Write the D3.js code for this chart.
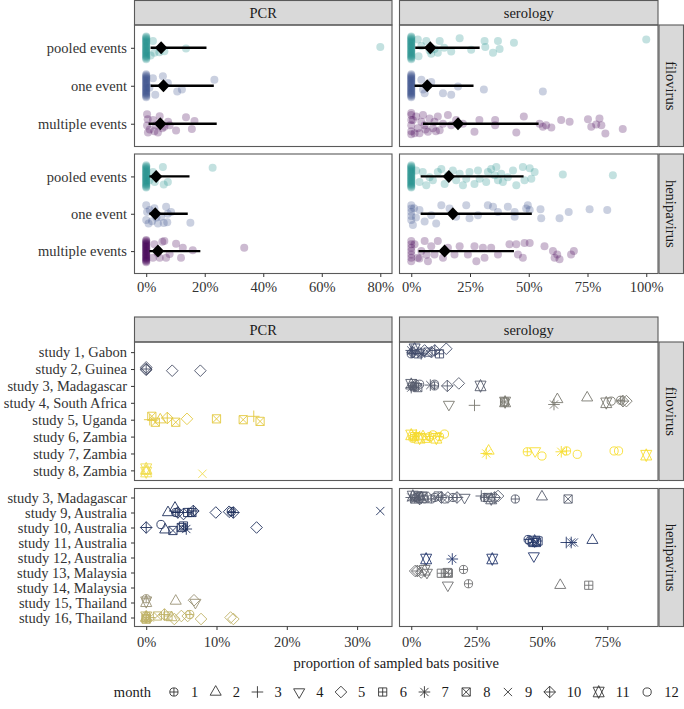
<!DOCTYPE html>
<html lang="en">
<head>
<meta charset="utf-8">
<title>bats positive</title>
<style>
  body { margin: 0; background: #fff; }
  svg text { font-family: "Liberation Serif", "DejaVu Serif", serif; }
</style>
</head>
<body>
<svg id="chart" width="684" height="709"></svg>
<script src="https://cdn.jsdelivr.net/npm/d3@7"></script>
<script>
// ---------------- data ----------------
var methods = ['PCR', 'serology'];
var viruses = ['filovirus', 'henipavirus'];
var eventTypes = ['pooled events', 'one event', 'multiple events'];

// top chart: [percent positive, vertical jitter (fraction of row)]
var filoPcrPooled = [[0,-0.3],[0,-0.275],[0,-0.25],[0,-0.225],[0,-0.2],[0,-0.175],[0,-0.15],[0,-0.125],[0,-0.1],[0,-0.075],[0,-0.05],[0,-0.025],[0,0],
  [0,0.025],[0,0.05],[0,0.075],[0,0.1],[0,0.125],[0,0.15],[0,0.175],[0,0.2],[0,0.225],[0,0.25],[0,0.275],[0,0.3],
  [1.5,0.2],[2.3,-0.18],[2.8,0.13],[4.5,0.12],[6.2,0.09],[13.6,0.02],[80,-0.02]];
var filoPcrOne = [[0,-0.3],[0,-0.275],[0,-0.25],[0,-0.225],[0,-0.2],[0,-0.175],[0,-0.15],[0,-0.125],[0,-0.1],[0,-0.075],[0,-0.05],[0,-0.025],[0,0],
  [0,0.025],[0,0.05],[0,0.075],[0,0.1],[0,0.125],[0,0.15],[0,0.175],[0,0.2],[0,0.225],[0,0.25],[0,0.275],[0,0.3],
  [1.1,0.05],[2.3,-0.2],[3.1,0.24],[5.7,-0.25],[7.4,-0.07],[10.6,0.15],[12.2,0.1],[23.3,-0.16]];
var filoPcrMulti = [[0.3,-0.25],[0.5,-0.12],[0.3,0.05],[0.6,0.23],[1.2,0.15],[2.3,-0.1],[2.8,0.2],[3.4,0.04],[4,0.23],[4.6,-0.2],
  [5.5,0.12],[6.2,0.08],[7.5,-0.05],[8,0.04],[10.2,0.18],[13.6,-0.17],[15.6,0.14],[16.5,-0.07]];
var heniPcrPooled = [[0,-0.3],[0,-0.275],[0,-0.25],[0,-0.225],[0,-0.2],[0,-0.175],[0,-0.15],[0,-0.125],[0,-0.1],[0,-0.075],[0,-0.05],[0,-0.025],[0,0],
  [0,0.025],[0,0.05],[0,0.075],[0,0.1],[0,0.125],[0,0.15],[0,0.175],[0,0.2],[0,0.225],[0,0.25],[0,0.275],[0,0.3],
  [1.1,0.1],[2.3,-0.12],[2.9,0.15],[5.7,-0.25],[6,0.22],[7.4,0.15],[22.7,-0.23]];
var heniPcrOne = [[0,-0.23],[0.3,-0.05],[0,0.17],[0.8,0.26],[1.2,-0.1],[2,0.2],[2.8,-0.15],[3.5,0.1],[4,0.26],[5.1,0.08],
  [6,0.25],[6.8,-0.19],[7.2,0.23],[7.4,0],[8.5,-0.05],[15.1,0.24]];
var heniPcrMulti = [[0,-0.3],[0,-0.275],[0,-0.25],[0,-0.225],[0,-0.2],[0,-0.175],[0,-0.15],[0,-0.125],[0,-0.1],[0,-0.075],[0,-0.05],[0,-0.025],[0,0],
  [0,0.025],[0,0.05],[0,0.075],[0,0.1],[0,0.125],[0,0.15],[0,0.175],[0,0.2],[0,0.225],[0,0.25],[0,0.275],[0,0.3],
  [2.3,0.18],[2.8,-0.18],[3.9,0.05],[4.6,0.18],[5.5,-0.25],[6.2,-0.27],[6.8,0.18],[8,0.08],[10.2,-0.2],[11.9,0.18],[12.5,-0.09],[15.9,-0.02],[33.5,-0.09]];

var filoSeroPooled = [[0,-0.3],[0,-0.275],[0,-0.25],[0,-0.225],[0,-0.2],[0,-0.175],[0,-0.15],[0,-0.125],[0,-0.1],[0,-0.075],[0,-0.05],[0,-0.025],[0,0],
  [0,0.025],[0,0.05],[0,0.075],[0,0.1],[0,0.125],[0,0.15],[0,0.175],[0,0.2],[0,0.225],[0,0.25],[0,0.275],[0,0.3],
  [2.8,-0.22],[3.1,0.22],[4.3,-0.05],[6.4,-0.18],[7.8,0.07],[8.5,0.16],[9.9,0.03],[11.3,0.13],[12.1,-0.18],[14,0],[17,0.1],
  [20.6,-0.25],[25.5,0.05],[31.2,-0.18],[31.5,-0.02],[34.8,0.13],[36.9,-0.18],[37.6,0.03],[43.7,-0.13],[100,-0.22]];
var filoSeroOne = [[0,-0.3],[0,-0.275],[0,-0.25],[0,-0.225],[0,-0.2],[0,-0.175],[0,-0.15],[0,-0.125],[0,-0.1],[0,-0.075],[0,-0.05],[0,-0.025],[0,0],
  [0,0.025],[0,0.05],[0,0.075],[0,0.1],[0,0.125],[0,0.15],[0,0.175],[0,0.2],[0,0.225],[0,0.25],[0,0.275],[0,0.3],
  [4.3,-0.16],[5,0.1],[5.7,0.2],[8.5,-0.1],[13.5,0.2],[17,0.24],[19.9,0.02],[30.9,0.1],[56,0.15]];
var filoSeroMulti = [[0,-0.23],[0,0.04],[0,0.2],[0,-0.1],[0,0.28],[0,-0.28],[0.7,-0.1],[1.4,0.25],[2.1,-0.19],[2.8,0.12],[3.5,0.25],[4.3,-0.05],[5,-0.23],
  [5.7,0.04],[6,0.15],[7.1,0.21],[7.8,-0.14],[9.2,0.12],[9.9,-0.05],[10.5,0.2],[11.3,-0.19],[12.1,0.17],[13.5,0],[15.6,-0.23],
  [17,0.04],[19.1,-0.1],[22,0],[26.9,0.21],[29,-0.1],[35.7,-0.1],[35.7,0.04],[44.7,0.23],[47.9,-0.19],[54.6,0],[56,0.08],
  [57.4,0.04],[59.6,0.1],[63.8,-0.1],[67.4,-0.05],[75.2,-0.12],[76.6,0.08],[78.7,0.02],[80.1,-0.14],[80.9,0.04],[82.6,0.26],[90,0.14]];
var heniSeroPooled = [[0,-0.3],[0,-0.275],[0,-0.25],[0,-0.225],[0,-0.2],[0,-0.175],[0,-0.15],[0,-0.125],[0,-0.1],[0,-0.075],[0,-0.05],[0,-0.025],[0,0],
  [0,0.025],[0,0.05],[0,0.075],[0,0.1],[0,0.125],[0,0.15],[0,0.175],[0,0.2],[0,0.225],[0,0.25],[0,0.275],[0,0.3],
  [2.1,-0.16],[3.5,0.15],[4.9,-0.12],[6.4,0.24],[7.8,0.02],[9.2,0.1],[11.3,-0.12],[12.8,-0.2],[14.2,0.2],[15.6,-0.03],[17.7,-0.16],
  [19.1,0.1],[20.6,-0.07],[22,0.24],[23.4,0.06],[24.8,-0.12],[26.9,0.2],[28.4,-0.16],[29.1,0.06],[31.9,0.15],[32.6,-0.12],[34,-0.2],
  [35.5,-0.03],[36.2,-0.25],[36.9,0.1],[38.3,-0.07],[39,0.15],[41.1,0.02],[43.3,-0.16],[44.7,0.24],[47.5,-0.25],[48.2,0.1],
  [50.4,-0.22],[51.1,0.06],[52.5,-0.12],[64.5,-0.05],[85.8,-0.03]];
var heniSeroOne = [[0,-0.23],[0,-0.14],[0,-0.05],[0,0.06],[0,0.17],[0.7,0.3],[1.2,-0.15],[2,0.1],[3.5,-0.1],[5.7,0.21],[8.5,0.04],[10.6,0.26],[12.8,-0.23],
  [16.3,-0.14],[19.1,0.08],[23.4,-0.23],[24.8,0.12],[28.4,0.04],[32.6,-0.23],[34.8,-0.19],[36.9,-0.05],[41.1,-0.19],[44,0.08],
  [44,-0.05],[48.9,-0.14],[49.6,-0.23],[50.4,-0.1],[55,-0.12],[55.3,0.12],[63.1,0.12],[67,-0.05],[75.9,-0.12],[83.4,-0.1]];
var heniSeroMulti = [[0,-0.27],[0,-0.18],[0,-0.09],[0,0],[0,0.09],[0,0.18],[0,0.27],[1.4,-0.18],[2.8,0.18],[3.5,0.2],[4.3,0],[5.7,-0.27],[6.5,0.1],[7.1,0.27],
  [8.5,-0.13],[9.9,0.09],[11.3,-0.27],[13.5,0.18],[15.6,-0.09],[18.4,0.09],[20.6,-0.13],[24.1,0.09],[26.9,-0.13],[27.7,0.27],
  [30.5,-0.09],[31.2,0.18],[34,-0.09],[36.9,0.09],[41.8,-0.18],[44.7,-0.18],[45.4,0.09],[47.5,0.18],[48.2,-0.22],[50.4,-0.22],
  [56.7,-0.13],[60.3,0],[61,0.18],[62.1,0.09],[63.1,0.22],[68,0.09],[69.2,0]];

// summaries per event type: [low, mean, high]
var filoPcrSummary = [[1.5,5.1,20.6],[1.5,5.9,23.1],[0.8,4.8,24.1]];
var heniPcrSummary = [[1.1,3.4,14.8],[1.1,3.1,14.2],[1.1,4.0,18.5]];
var filoSeroSummary = [[1.7,8.1,29.1],[1.4,6.8,26.5],[5.0,19.9,54.2]];
var heniSeroSummary = [[4.0,16.0,47.8],[4.0,17.7,51.3],[3.1,14.2,43.7]];

// bottom chart: studies and [percent positive, month, jitter]
var filoStudies = ['study 1, Gabon','study 2, Guinea','study 3, Madagascar','study 4, South Africa',
  'study 5, Uganda','study 6, Zambia','study 7, Zambia','study 8, Zambia'];
var heniStudies = ['study 3, Madagascar','study 9, Australia','study 10, Australia','study 11, Australia',
  'study 12, Australia','study 13, Malaysia','study 14, Malaysia','study 15, Thailand','study 16, Thailand'];
var months = [1,2,3,4,5,6,7,8,9,10,11,12];

var study2Pcr = [[0,5,-0.1],[0,5,0.05],[0,10,0],[3.7,5,0.1],[7.7,5,0.1]];
var study5Pcr = [[0.5,3,0],[0.8,8,-0.2],[1.3,8,0.15],[2,2,0],[3,10,-0.1],[4.2,8,0.15],[5.8,5,-0.05],[10,8,-0.05],
  [13.8,8,0],[15.3,3,-0.2],[16.2,8,0.1]];
var study8Pcr = [[0,11,-0.1],[0,2,0.05],[0,11,0.1],[8,9,0.2]];
var study9Pcr = [[3.1,2,0],[4.1,2,-0.3],[4.2,1,0],[4.5,10,0],[5.3,5,0.1],[5.9,6,0],[6.5,8,0],[6.7,10,-0.1],[9.9,5,0],
  [11.8,5,-0.05],[12.1,1,-0.05],[12.4,10,0],[33.3,9,-0.1]];
var study10Pcr = [[0,10,0],[2.1,12,-0.2],[2.7,2,0.15],[3.8,8,0.2],[5,8,0],[5.3,6,-0.1],[5.7,7,0.1],[15.7,5,0]];
var study15Pcr = [[0,1,-0.25],[0,11,-0.05],[4.2,2,-0.1],[6.8,5,-0.15],[7,4,0]];
var study16Pcr = [[0,1,-0.1],[0,2,0],[0,6,0.1],[0,12,0.05],[0,11,-0.05],[0,8,0.1],[0.5,7,0],[1.6,8,-0.1],[2.6,10,-0.2],
  [3.1,6,-0.1],[3.6,2,0],[4,5,0.1],[5,5,-0.1],[5.9,5,-0.1],[6.2,1,-0.2],[7.8,5,0.1],[12,5,0],[12.4,5,0.1]];

var study1Sero = [[0,7,-0.1],[0,1,0.1],[0.5,10,0],[1.3,11,-0.2],[2.6,6,0.1],[3.2,12,0],[3.8,7,0.1],[5.1,5,-0.1],[6.4,8,0],
  [7.7,5,0],[9,10,-0.1],[10.8,6,0.1],[13.4,5,-0.2]];
var study3Sero = [[0,11,-0.1],[0,7,0.1],[0.5,1,0],[1.2,6,0.05],[1.8,10,-0.05],[2.5,8,0.1],[3.2,12,-0.1],[7.3,7,-0.05],
  [8.9,12,-0.1],[8.9,1,0],[13.8,10,0],[18.2,5,-0.15],[26.5,11,0]];
var study4Sero = [[14.4,4,0.1],[24.2,3,0.15],[35.7,8,-0.05],[35.7,1,-0.05],[35.9,11,-0.05],[54.6,7,0.1],[55.9,2,-0.2],
  [67.3,2,-0.3],[74.6,11,0],[76.5,12,-0.1],[80.1,1,-0.15],[81,10,-0.1],[82.3,5,-0.1]];
var study6Sero = [[0,11,-0.1],[0.6,1,0.1],[1.3,6,0],[1.9,7,-0.1],[3.2,11,0.1],[4.5,2,0],[5.7,8,0.1],[7,1,0],[8.3,12,-0.1],
  [9.6,11,0.1],[10.8,1,0],[12.7,12,-0.15]];
var study7Sero = [[28.7,7,0],[29.6,2,-0.15],[44.4,1,-0.1],[47.4,4,-0.15],[50,12,0.15],[57.4,7,-0.1],[59.4,1,-0.15],
  [63.5,12,0.05],[77.6,12,-0.15],[79.3,12,-0.15],[89.9,11,0.1]];
var study3SeroH = [[0,7,0],[0.6,11,-0.1],[1.3,6,0.1],[1.9,1,0],[2.6,8,-0.1],[3.2,10,0.1],[3.8,11,0],[4.5,6,-0.1],[5.1,12,0.1],
  [6.4,5,0],[7.7,1,0.1],[9,12,0],[10.3,6,-0.1],[11.5,10,0],[12.8,12,0.1],[14,5,0],[16,1,0],[17.5,10,0],[20.4,4,0],
  [26.8,3,-0.1],[28,1,0],[29.3,8,0],[30.6,11,0.1],[31.9,10,0],[33.2,5,-0.1],[39.8,1,0.1],[50,2,-0.05],[60,8,0.1]];
var study11SeroH = [[44.7,1,-0.2],[45.3,12,-0.1],[46.5,6,0],[47.2,11,-0.1],[47.9,8,0],[48.5,6,-0.1],[59.3,3,0],[61.2,7,0],
  [62.2,9,0],[69.3,2,-0.15]];
var study12SeroH = [[5.7,11,0.1],[15.7,7,0.1],[31,11,0.1],[46.9,4,-0.1]];
var study13SeroH = [[1.5,5,-0.1],[2.3,10,-0.1],[3.8,5,0],[5.1,11,-0.15],[6,4,0],[11.5,6,0.05],[13.8,8,0],[14.2,6,0.05],[20,1,-0.2]];
var study14SeroH = [[14,4,-0.15],[21.9,1,-0.25],[57,2,-0.15],[67.9,6,-0.15]];

var topPcrTicks = [0, 20, 40, 60, 80];
var topSeroTicks = [0, 25, 50, 75, 100];
var botPcrTicks = [0, 10, 20, 30];
var botSeroTicks = [0, 25, 50, 75];

// ---------------- style / layout ----------------
var eventColor = d3.scaleOrdinal().domain(eventTypes).range(['#21908C', '#3B528B', '#440154']);
var studyColor = {
  'study 1, Gabon': '#434d6b', 'study 2, Guinea': '#4a5068', 'study 3, Madagascar': '#575c6d',
  'study 4, South Africa': '#7b7970', 'study 5, Uganda': '#e3c83f', 'study 6, Zambia': '#f5da2e',
  'study 7, Zambia': '#f7de30', 'study 8, Zambia': '#f0dc4f', 'study 9, Australia': '#1d2e5a',
  'study 10, Australia': '#1f305c', 'study 11, Australia': '#27396a', 'study 12, Australia': '#22366c',
  'study 13, Malaysia': '#6d6e70', 'study 14, Malaysia': '#717172', 'study 15, Thailand': '#9a9275',
  'study 16, Thailand': '#c0b268'
};
var fs = 14.5;
var ink = '#333';
var border = '#5a5a5a';
var colX = { PCR: [134.5, 392], serology: [399.5, 658] };
var stripX = [659, 683.5];
var topRows = { filovirus: [25, 146.5], henipavirus: [154, 273.5] };
var botRows = { filovirus: [342, 480.5], henipavirus: [488.5, 626.5] };

var svg = d3.select('#chart');

function expanded(max) { return [-0.05 * max, 1.05 * max]; }

function shapePath(m, R) {
  var t0 = 1.5551, t1 = t0 * Math.sqrt(3) / 2, t2 = t0 / 2;
  function circ(r) { return 'M' + (-r) + ',0A' + r + ',' + r + ' 0 1,0 ' + r + ',0A' + r + ',' + r + ' 0 1,0 ' + (-r) + ',0Z'; }
  function plus(a) { return 'M' + (-a) + ',0H' + a + 'M0,' + (-a) + 'V' + a; }
  function cross(a) { return 'M' + (-a) + ',' + (-a) + 'L' + a + ',' + a + 'M' + (-a) + ',' + a + 'L' + a + ',' + (-a); }
  function sq(a) { return 'M' + (-a) + ',' + (-a) + 'H' + a + 'V' + a + 'H' + (-a) + 'Z'; }
  function dia(a) { return 'M0,' + (-a) + 'L' + a + ',0L0,' + a + 'L' + (-a) + ',0Z'; }
  function tri(up, r, yc, xc) { var s = up ? 1 : -1; return 'M0,' + (-s * r) + 'L' + xc + ',' + (s * yc) + 'L' + (-xc) + ',' + (s * yc) + 'Z'; }
  switch (m) {
    case 1: return circ(R) + plus(R);
    case 2: return tri(true, t0 * R, t2 * R, t1 * R);
    case 3: return plus(Math.SQRT2 * R);
    case 4: return tri(false, t0 * R, t2 * R, t1 * R);
    case 5: return dia(Math.SQRT2 * R);
    case 6: return sq(R) + plus(R);
    case 7: return plus(Math.SQRT2 * R) + cross(R);
    case 8: return sq(R) + cross(R);
    case 9: return cross(R);
    case 10: return dia(Math.SQRT2 * R) + plus(Math.SQRT2 * R);
    case 11: var yc = 0.5 * (t2 + t0) * R; return tri(true, t0 * R, yc, t1 * R) + tri(false, t0 * R, yc, t1 * R);
    default: return circ(R);
  }
}

function frame(x0, x1, y0, y1) {
  svg.append('rect').attr('x', x0).attr('y', y0).attr('width', x1 - x0).attr('height', y1 - y0)
    .attr('fill', 'none').attr('stroke', border).attr('stroke-width', 1.1);
}
function topStrip(label, x0, x1, y0, y1) {
  svg.append('rect').attr('x', x0).attr('y', y0).attr('width', x1 - x0).attr('height', y1 - y0)
    .attr('fill', '#d9d9d9').attr('stroke', border).attr('stroke-width', 1.1);
  svg.append('text').attr('x', (x0 + x1) / 2).attr('y', (y0 + y1) / 2).attr('dy', '0.35em')
    .attr('text-anchor', 'middle').attr('font-size', fs).attr('fill', '#1a1a1a').text(label);
}
function sideStrip(label, y0, y1) {
  svg.append('rect').attr('x', stripX[0]).attr('y', y0).attr('width', stripX[1] - stripX[0]).attr('height', y1 - y0)
    .attr('fill', '#d9d9d9').attr('stroke', border).attr('stroke-width', 1.1);
  var cx = (stripX[0] + stripX[1]) / 2, cy = (y0 + y1) / 2;
  svg.append('text').attr('transform', 'translate(' + cx + ',' + cy + ') rotate(90)').attr('dy', '0.35em')
    .attr('text-anchor', 'middle').attr('font-size', fs).attr('fill', '#1a1a1a').text(label);
}
function styleAxis(g) {
  g.select('.domain').remove();
  g.attr('font-family', null).attr('font-size', fs).attr('color', ink);
  g.selectAll('text').attr('fill', ink);
  g.selectAll('line').attr('stroke-width', 1);
}
function xAxisAt(scale, ticks, y, pad) {
  svg.append('g').attr('transform', 'translate(0,' + y + ')')
    .call(d3.axisBottom(scale).tickValues(ticks).tickFormat(function (d) { return d + '%'; })
      .tickSize(3.5).tickPadding(pad))
    .call(styleAxis);
}
function yAxisAt(scale, x) {
  svg.append('g').attr('transform', 'translate(' + x + ',0)')
    .call(d3.axisLeft(scale).tickSize(3.5).tickPadding(4))
    .call(styleAxis);
}

// ---------------- top chart ----------------
var topSets = {
  filovirus: { PCR: [filoPcrPooled, filoPcrOne, filoPcrMulti], serology: [filoSeroPooled, filoSeroOne, filoSeroMulti] },
  henipavirus: { PCR: [heniPcrPooled, heniPcrOne, heniPcrMulti], serology: [heniSeroPooled, heniSeroOne, heniSeroMulti] }
};
var topSummary = {
  filovirus: { PCR: filoPcrSummary, serology: filoSeroSummary },
  henipavirus: { PCR: heniPcrSummary, serology: heniSeroSummary }
};
var topX = {};
methods.forEach(function (m) {
  var mx = d3.max(viruses, function (v) { return d3.max(topSets[v][m], function (s) { return d3.max(s, function (d) { return d[0]; }); }); });
  topX[m] = d3.scaleLinear().domain(expanded(mx)).range(colX[m]);
});

methods.forEach(function (m) { topStrip(m, colX[m][0], colX[m][1], 0.5, topRows.filovirus[0]); });

viruses.forEach(function (v) {
  var y = d3.scalePoint().domain(eventTypes).range(topRows[v]).padding(0.6);
  var step = y.step();
  methods.forEach(function (m) {
    var x = topX[m];
    var g = svg.append('g');
    eventTypes.forEach(function (ev, i) {
      g.selectAll(null).data(topSets[v][m][i]).enter().append('circle')
        .attr('cx', function (d) { return x(d[0]); })
        .attr('cy', function (d) { return y(ev) + d[1] * step; })
        .attr('r', 4)
        .attr('fill', eventColor(ev))
        .attr('fill-opacity', 0.27);
    });
    eventTypes.forEach(function (ev, i) {
      var s = topSummary[v][m][i];
      g.append('line').attr('x1', x(s[0])).attr('x2', x(s[2])).attr('y1', y(ev)).attr('y2', y(ev))
        .attr('stroke', '#000').attr('stroke-width', 2.4);
      g.append('path').attr('d', 'M0,-6.5L6.2,0L0,6.5L-6.2,0Z')
        .attr('transform', 'translate(' + x(s[1]) + ',' + y(ev) + ')').attr('fill', '#000');
    });
    frame(colX[m][0], colX[m][1], topRows[v][0], topRows[v][1]);
    if (m === 'PCR') yAxisAt(y, colX.PCR[0]);
  });
  sideStrip(v, topRows[v][0], topRows[v][1]);
});
xAxisAt(topX.PCR, topPcrTicks, topRows.henipavirus[1], 5.2);
xAxisAt(topX.serology, topSeroTicks, topRows.henipavirus[1], 5.2);

// ---------------- bottom chart ----------------
var botSets = [
  { virus: 'filovirus', method: 'PCR', study: 'study 2, Guinea', pts: study2Pcr },
  { virus: 'filovirus', method: 'PCR', study: 'study 5, Uganda', pts: study5Pcr },
  { virus: 'filovirus', method: 'PCR', study: 'study 8, Zambia', pts: study8Pcr },
  { virus: 'henipavirus', method: 'PCR', study: 'study 9, Australia', pts: study9Pcr },
  { virus: 'henipavirus', method: 'PCR', study: 'study 10, Australia', pts: study10Pcr },
  { virus: 'henipavirus', method: 'PCR', study: 'study 15, Thailand', pts: study15Pcr },
  { virus: 'henipavirus', method: 'PCR', study: 'study 16, Thailand', pts: study16Pcr },
  { virus: 'filovirus', method: 'serology', study: 'study 1, Gabon', pts: study1Sero },
  { virus: 'filovirus', method: 'serology', study: 'study 3, Madagascar', pts: study3Sero },
  { virus: 'filovirus', method: 'serology', study: 'study 4, South Africa', pts: study4Sero },
  { virus: 'filovirus', method: 'serology', study: 'study 6, Zambia', pts: study6Sero },
  { virus: 'filovirus', method: 'serology', study: 'study 7, Zambia', pts: study7Sero },
  { virus: 'henipavirus', method: 'serology', study: 'study 3, Madagascar', pts: study3SeroH },
  { virus: 'henipavirus', method: 'serology', study: 'study 11, Australia', pts: study11SeroH },
  { virus: 'henipavirus', method: 'serology', study: 'study 12, Australia', pts: study12SeroH },
  { virus: 'henipavirus', method: 'serology', study: 'study 13, Malaysia', pts: study13SeroH },
  { virus: 'henipavirus', method: 'serology', study: 'study 14, Malaysia', pts: study14SeroH }
];
var studyLists = { filovirus: filoStudies, henipavirus: heniStudies };
var botX = {};
methods.forEach(function (m) {
  var mx = d3.max(botSets.filter(function (s) { return s.method === m; }), function (s) { return d3.max(s.pts, function (d) { return d[0]; }); });
  botX[m] = d3.scaleLinear().domain(expanded(mx)).range(colX[m]);
});
var stripTop = 317;
methods.forEach(function (m) { topStrip(m, colX[m][0], colX[m][1], stripTop, botRows.filovirus[0]); });

var R = 4.1;
viruses.forEach(function (v) {
  var y = d3.scalePoint().domain(studyLists[v]).range(botRows[v]).padding(0.6);
  var step = y.step();
  methods.forEach(function (m) {
    var x = botX[m];
    var g = svg.append('g');
    botSets.filter(function (s) { return s.virus === v && s.method === m; }).forEach(function (s) {
      g.selectAll(null).data(s.pts).enter().append('path')
        .attr('d', function (d) { return shapePath(d[1], R); })
        .attr('transform', function (d) { return 'translate(' + x(d[0]) + ',' + (y(s.study) + d[2] * step) + ')'; })
        .attr('fill', 'none')
        .attr('stroke', studyColor[s.study])
        .attr('stroke-width', 0.9);
    });
    frame(colX[m][0], colX[m][1], botRows[v][0], botRows[v][1]);
    if (m === 'PCR') yAxisAt(y, colX.PCR[0]);
  });
  sideStrip(v, botRows[v][0], botRows[v][1]);
});
xAxisAt(botX.PCR, botPcrTicks, botRows.henipavirus[1], 6.7);
xAxisAt(botX.serology, botSeroTicks, botRows.henipavirus[1], 6.7);

svg.append('text').attr('x', (colX.PCR[0] + colX.serology[1]) / 2).attr('y', 668)
  .attr('text-anchor', 'middle').attr('font-size', fs).attr('fill', '#1a1a1a')
  .text('proportion of sampled bats positive');

// ---------------- legend ----------------
var legend = svg.append('g');
var lx = 0, ly = 697;
var title = legend.append('text').attr('x', lx).attr('y', ly).attr('font-size', fs).attr('fill', '#1a1a1a').text('month');
lx += title.node().getComputedTextLength() + 23;
months.forEach(function (mo) {
  legend.append('path').attr('d', shapePath(mo, R))
    .attr('transform', 'translate(' + lx + ',' + (ly - 5) + ')')
    .attr('fill', 'none').attr('stroke', ink).attr('stroke-width', 0.9);
  var t = legend.append('text').attr('x', lx + 17).attr('y', ly).attr('font-size', fs).attr('fill', '#1a1a1a').text(mo);
  lx += 17 + t.node().getComputedTextLength() + 17.5;
});
var lw = lx - 17.5;
legend.attr('transform', 'translate(' + ((colX.PCR[0] + colX.serology[1]) / 2 - lw / 2) + ',0)');
</script>
</body>
</html>
